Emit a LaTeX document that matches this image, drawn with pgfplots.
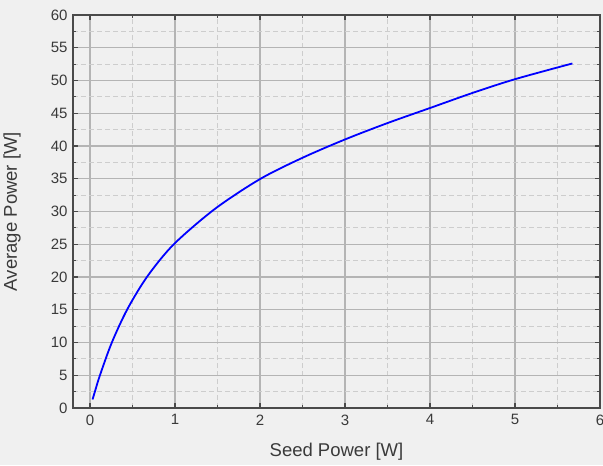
\documentclass[border=0pt]{standalone}
\usepackage{pgfplots}
\pgfplotsset{compat=1.18}
\usepackage{fontspec}
\setmainfont{Liberation Sans}
\definecolor{bgGray}{HTML}{F0F0F0}
\definecolor{txtGray}{HTML}{3A3A3A}
\definecolor{majGrid}{HTML}{B4B4B4}
\definecolor{minGrid}{HTML}{CDCDCD}
\definecolor{axGray}{HTML}{4A4A4A}
\pgfdeclarelayer{bg}
\pgfsetlayers{bg,main}

\begin{document}
\begin{tikzpicture}
\begin{axis}[
    scale only axis,
    width=527pt, height=393pt,
    xmin=-0.2, xmax=6,
    ymin=0, ymax=60,
    xtick={0,1,...,6},
    ytick={0,5,...,60},
    minor x tick num=1,
    minor y tick num=1,
    grid=both,
    major grid style={majGrid, line width=1.3pt},
    minor grid style={minGrid, dash pattern=on 5pt off 3pt, line width=1pt},
    axis line style={axGray, line width=1.4pt},
    tick style={axGray, line width=1.2pt},
    major tick length=5pt,
    minor tick length=3pt,
    tick align=inside,
    xtick pos=both, ytick pos=both,
    xticklabel pos=bottom, yticklabel pos=left,
    tick label style={font=\fontsize{15}{17}\selectfont, text=txtGray},
    xticklabel style={yshift=-3pt},
    yticklabel style={xshift=-2pt},
    /pgf/number format/assume math mode=true,
    xlabel={Seed Power [W]},
    ylabel={Average Power [W]},
    label style={font=\fontsize{18.5}{21}\selectfont, text=txtGray},
    xlabel style={at={(axis description cs:0.5,-0.112)}, anchor=center},
    ylabel style={at={(axis description cs:-0.1157,0.5)}, anchor=center},
]
\coordinate (sw) at (rel axis cs:0,0);
\coordinate (ne) at (rel axis cs:1,1);
\addplot[color=blue, line width=1.8pt, smooth, tension=0.5] coordinates {
    (0.03,1.3)
    (0.06,2.6)
    (0.117,5.0)
    (0.257,10.0)
    (0.44,15.1)
    (0.675,20.1)
    (0.986,25.0)
    (1.47,30.4)
    (2.0,34.95)
    (2.5,38.2)
    (3.0,41.0)
    (3.5,43.5)
    (4.0,45.8)
    (4.5,48.1)
    (5.0,50.2)
    (5.675,52.6)
};
\end{axis}
\pgfresetboundingbox
\begin{pgfonlayer}{bg}
\fill[bgGray] ([shift={(-73pt,-57pt)}]sw) rectangle ([shift={(3pt,15pt)}]ne);
\end{pgfonlayer}
\path[use as bounding box] ([shift={(-73pt,-57pt)}]sw) rectangle ([shift={(3pt,15pt)}]ne);
\end{tikzpicture}
\end{document}
